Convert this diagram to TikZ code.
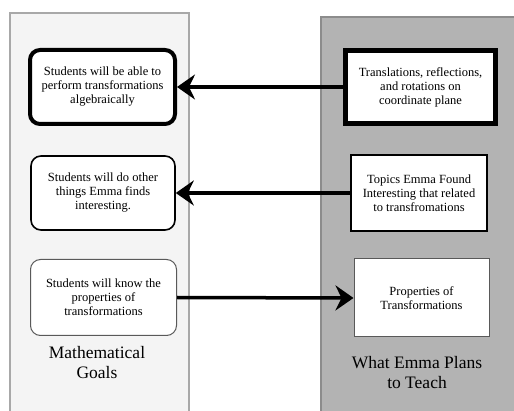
\documentclass[tikz,border=0pt]{standalone}
\usepackage{fontspec}
\setmainfont{Liberation Serif}
\usetikzlibrary{arrows.meta}
\definecolor{leftfill}{HTML}{F4F4F4}
\definecolor{leftdraw}{HTML}{A8A8A8}
\definecolor{rightfill}{HTML}{B3B3B3}
\definecolor{rightdraw}{HTML}{8C8C8C}
\begin{document}
\begin{tikzpicture}[x=1pt,y=-1pt,
  panel/.style={line width=1.2pt},
  box/.style={fill=white, align=center, inner sep=2pt, font=\fontsize{12.5}{14}\selectfont},
  goalbox/.style={box, rounded corners=10pt},
  title/.style={align=center, font=\fontsize{17.5}{20}\selectfont, text=black},
  conn/.style={line width=3.5pt, -{Stealth[length=18pt,width=25pt,inset=6pt]}}
]
\useasboundingbox (0,0) rectangle (514,411);
% panels
\path[panel, fill=leftfill, draw=leftdraw] (10,13) rectangle (189,412);
\path[panel, fill=rightfill, draw=rightdraw] (321,17) rectangle (516,413);
% left boxes
\node[goalbox, draw=black, line width=4pt, minimum width=145pt, minimum height=74pt] (g1) at (102.5,87)
  {Students will be able to\\perform transformations\\algebraically};
\node[goalbox, draw=black, line width=1.6pt, minimum width=144pt, minimum height=74pt] (g2) at (103,193)
  {Students will do other\\things Emma finds\\interesting.};
\node[goalbox, draw=black!65, line width=1pt, minimum width=146pt, minimum height=76pt] (g3) at (103.5,297.5)
  {Students will know the\\properties of\\transformations};
\node[title] (lt) at (97,363) {Mathematical\\Goals};
% right boxes
\node[box, draw=black, line width=5pt, minimum width=150pt, minimum height=73pt] (t1) at (420.5,87)
  {Translations, reflections,\\and rotations on\\coordinate plane};
\node[box, draw=black, line width=2pt, minimum width=136pt, minimum height=76pt] (t2) at (419,193)
  {Topics Emma Found\\Interesting that related\\to transfromations};
\node[box, draw=black!65, line width=1pt, minimum width=135pt, minimum height=78pt] (t3) at (421.5,298)
  {Properties of\\Transformations};
\node[title] (rt) at (417,373) {What Emma Plans\\to Teach};
% connectors
\draw[conn] (t1.west) -- (g1.east);
\draw[conn] (t2.west) -- (g2.east);
\draw[conn] (g3.east) -- (t3.west);
\end{tikzpicture}
\end{document}
